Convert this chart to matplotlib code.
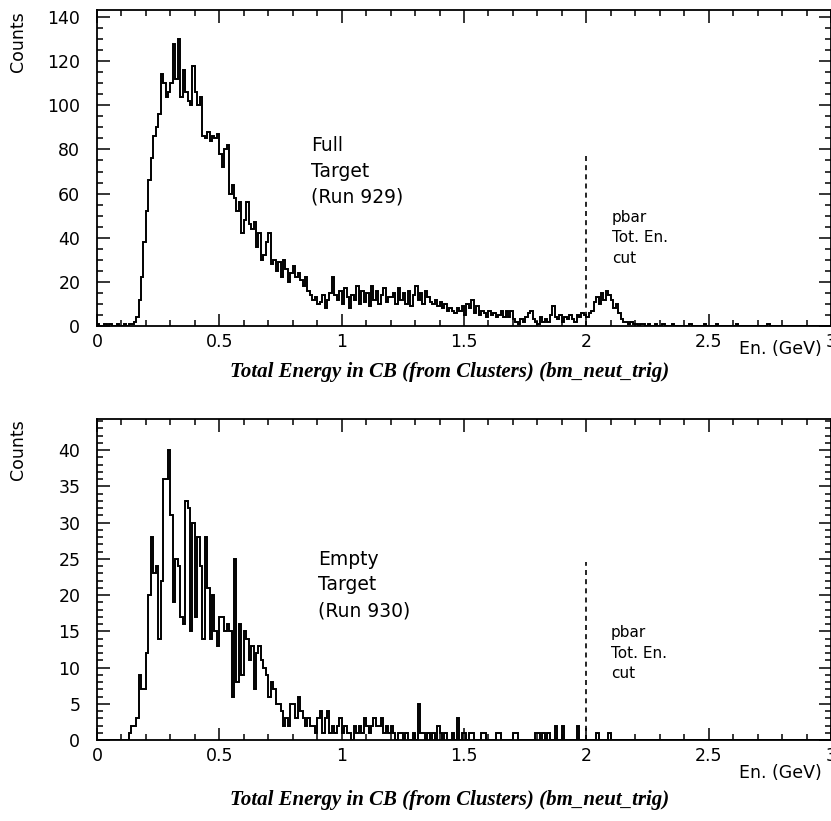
import numpy as np
import matplotlib
matplotlib.use("Agg")
import matplotlib.pyplot as plt
from matplotlib.ticker import MultipleLocator, FuncFormatter

# bin width of both histograms (GeV)
BIN_WIDTH = 0.01

# Full target (Run 929): counts per 0.01 GeV bin, one row per 0.1 GeV
full_counts = [
    1, 0, 0, 1, 0, 1, 0, 0, 1, 0,
    0, 1, 0, 1, 1, 2, 4, 12, 22, 38,
    52, 66, 76, 86, 90, 96, 114, 110, 104, 106,
    110, 128, 112, 130, 104, 116, 106, 102, 100, 118,
    106, 100, 104, 86, 85, 88, 84, 86, 85, 87,
    78, 72, 80, 82, 60, 64, 58, 52, 56, 42,
    48, 56, 46, 44, 47, 36, 42, 30, 32, 38,
    42, 28, 30, 25, 29, 22, 30, 26, 20, 24,
    27, 22, 24, 21, 18, 22, 16, 14, 12, 13,
    10, 11, 14, 8, 12, 15, 22, 14, 12, 16,
    10, 17, 13, 8, 14, 12, 18, 10, 16, 11,
    15, 9, 18, 12, 16, 10, 14, 17, 11, 13,
    13, 15, 10, 17, 12, 15, 10, 16, 9, 14,
    18, 12, 15, 10, 16, 13, 11, 10, 12, 9,
    11, 8, 10, 7, 8, 7, 6, 8, 7, 9,
    5, 10, 8, 12, 6, 9, 5, 7, 6, 4,
    7, 5, 6, 4, 5, 7, 4, 7, 4, 7,
    3, 2, 1, 3, 2, 4, 6, 7, 3, 2,
    1, 4, 2, 3, 2, 5, 9, 4, 3, 5,
    2, 4, 3, 5, 3, 2, 5, 4, 6, 5,
    4, 6, 7, 11, 13, 10, 15, 12, 16, 14,
    12, 8, 10, 6, 3, 2, 2, 1, 2, 1,
    1, 0, 1, 1, 0, 1, 0, 0, 1, 0,
    0, 1, 0, 0, 0, 1, 0, 0, 0, 0,
    0, 0, 1, 0, 0, 0, 0, 0, 1, 0,
    0, 0, 0, 1, 0, 0, 0, 0, 0, 0,
    0, 1, 0, 0, 0, 0, 0, 0, 0, 0,
    0, 0, 0, 0, 1, 0, 0, 0, 0, 0,
    0, 0, 0, 0, 0, 0, 0, 0, 0, 0,
    0, 0, 0, 0, 0, 0, 0, 0, 0, 0,
]

# Empty target (Run 930)
empty_counts = [
    0, 0, 0, 0, 0, 0, 0, 0, 0, 0,
    0, 0, 0, 1, 2, 2, 3, 9, 7, 7,
    12, 20, 28, 23, 24, 14, 22, 36, 36, 40,
    31, 19, 25, 24, 17, 16, 33, 32, 15, 30,
    17, 28, 24, 14, 28, 21, 14, 20, 15, 13,
    17, 17, 15, 16, 15, 6, 25, 8, 16, 9,
    15, 14, 11, 13, 7, 12, 13, 11, 10, 9,
    6, 8, 7, 5, 5, 4, 2, 3, 2, 5,
    5, 3, 6, 4, 3, 2, 3, 2, 2, 1,
    3, 4, 1, 3, 4, 1, 2, 1, 2, 3,
    1, 2, 1, 1, 0, 2, 1, 2, 1, 3,
    2, 1, 2, 3, 2, 2, 3, 1, 2, 1,
    2, 1, 0, 1, 1, 0, 1, 0, 0, 1,
    0, 5, 1, 1, 0, 1, 0, 1, 0, 2,
    1, 0, 1, 0, 0, 1, 0, 3, 0, 1,
    1, 0, 1, 1, 0, 0, 0, 1, 1, 0,
    0, 0, 0, 1, 1, 0, 0, 0, 0, 0,
    1, 1, 0, 0, 0, 0, 0, 0, 0, 1,
    1, 0, 1, 0, 1, 0, 0, 2, 0, 0,
    2, 0, 0, 0, 0, 0, 2, 0, 0, 0,
    0, 0, 0, 0, 1, 0, 0, 0, 0, 1,
] + [0] * 90

cut_energy = 2.0
title = "Total Energy in CB (from Clusters) (bm_neut_trig)"

W, H = 831, 821
fig = plt.figure(figsize=(W / 100, H / 100), dpi=100)
plt.rcParams['font.family'] = ['DejaVu Sans']


def setup_axes(ax, ymax, ymajor, yminor):
    ax.set_xlim(0, 3)
    ax.set_ylim(0, ymax)
    ax.xaxis.set_major_locator(MultipleLocator(0.5))
    ax.xaxis.set_minor_locator(MultipleLocator(0.1))
    ax.yaxis.set_major_locator(MultipleLocator(ymajor))
    ax.yaxis.set_minor_locator(MultipleLocator(yminor))
    ax.xaxis.set_major_formatter(FuncFormatter(lambda v, p: '%g' % v))
    ax.tick_params(which='both', direction='in', top=True, right=True,
                   width=1.1, labelsize=12.5)
    ax.tick_params(which='major', length=9)
    ax.tick_params(which='minor', length=4.5)
    ax.tick_params(axis='y', pad=12)
    ax.tick_params(axis='x', pad=5)
    for s in ax.spines.values():
        s.set_linewidth(1.3)


def fig_text(x, y, s, **kw):
    fig.text(x / W, 1 - y / H, s, **kw)


# top panel: full target
ax1 = fig.add_axes([97 / W, 1 - 326 / H, 734 / W, 316 / H])
edges = np.arange(len(full_counts) + 1) * BIN_WIDTH
ax1.stairs(full_counts, edges, color='black', linewidth=1.4)
ax1.plot([cut_energy, cut_energy], [0, 79], color='black', linestyle=(0, (3, 2.5)), linewidth=1.2)
setup_axes(ax1, 143.2, 20, 5)
ax1.text(0.875, 70, "Full\nTarget\n(Run 929)", fontsize=13.5, va='center', ha='left',
         linespacing=1.45)
ax1.text(2.105, 40, "pbar\nTot. En.\ncut", fontsize=11, va='center', ha='left',
         linespacing=1.45)

# bottom panel: empty target
ax2 = fig.add_axes([97 / W, 1 - 740 / H, 734 / W, 321 / H])
edges = np.arange(len(empty_counts) + 1) * BIN_WIDTH
ax2.stairs(empty_counts, edges, color='black', linewidth=1.4)
ax2.plot([cut_energy, cut_energy], [0, 24.5], color='black', linestyle=(0, (3, 2.5)), linewidth=1.2)
setup_axes(ax2, 44.3, 5, 1)
ax2.text(0.905, 21.4, "Empty\nTarget\n(Run 930)", fontsize=13.5, va='center', ha='left',
         linespacing=1.45)
ax2.text(2.10, 12, "pbar\nTot. En.\ncut", fontsize=11, va='center', ha='left',
         linespacing=1.45)

# labels
for ycnt, yen, ytitle in [(42, 349, 372), (450, 773, 800)]:
    fig_text(18, ycnt, "Counts", rotation=90, fontsize=12.5, ha='center', va='center')
    fig_text(822, yen, "En. (GeV)", fontsize=12.5, ha='right', va='center')
    fig_text(450, ytitle, title, fontsize=15, ha='center', va='center',
             family='Liberation Serif', style='italic', weight='bold')

fig.savefig("out.png", dpi=100)
